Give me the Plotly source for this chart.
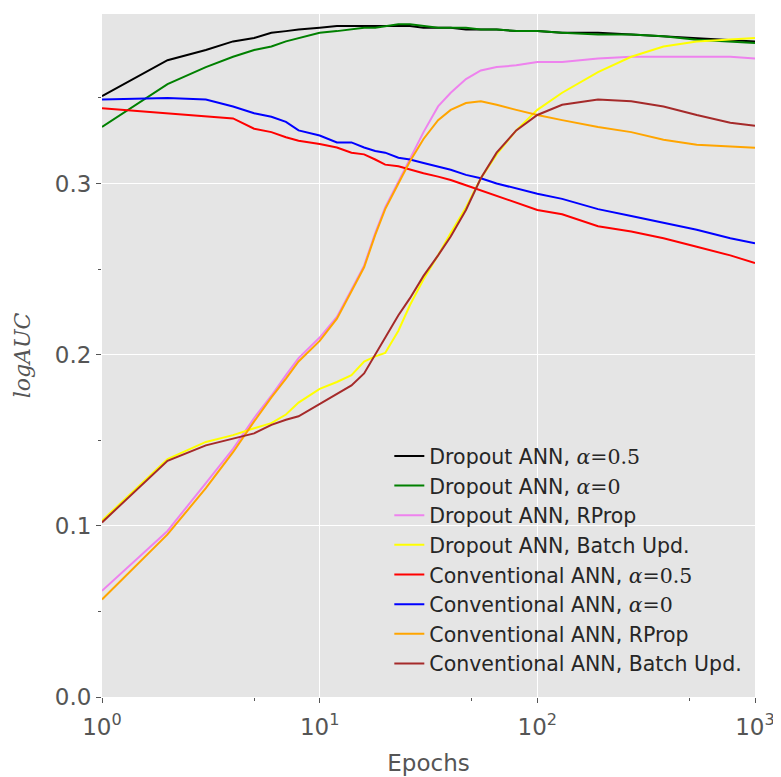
import plotly.graph_objects as go

epochs = [1, 2, 3, 4, 5, 6, 7, 8, 10, 12, 14, 16, 18, 20, 23, 26, 30, 35, 40, 47,
          55, 65, 80, 100, 130, 190, 270, 380, 540, 770, 1000]

dropout_a05 = [.351, .372, .378, .383, .385, .388, .389, .390, .391, .392, .392, .392, .392, .392, .392, .392,
               .391, .391, .391, .390, .390, .390, .389, .389, .388, .388, .387, .386, .385, .384, .383]
dropout_a0 = [.333, .358, .368, .374, .378, .380, .383, .385, .388, .389, .390, .391, .391, .392, .393, .393,
              .392, .391, .391, .391, .390, .390, .389, .389, .388, .387, .387, .386, .384, .383, .382]
dropout_rprop = [.062, .097, .125, .145, .163, .176, .188, .198, .210, .222, .238, .252, .271, .286, .301, .314,
                 .330, .345, .353, .361, .366, .368, .369, .371, .371, .373, .374, .374, .374, .374, .373]
dropout_batch = [.103, .139, .149, .153, .157, .160, .165, .172, .180, .184, .188, .196, .199, .201, .214, .229,
                 .244, .258, .271, .286, .303, .317, .331, .343, .353, .365, .374, .380, .383, .384, .385]
conv_a05 = [.344, .341, .339, .338, .332, .330, .327, .325, .323, .321, .318, .317, .314, .311, .310, .308,
            .306, .304, .302, .299, .296, .293, .289, .2845, .282, .275, .272, .268, .263, .258, .2535]
conv_a0 = [.349, .350, .349, .345, .341, .339, .336, .331, .328, .324, .324, .321, .319, .318, .315, .314,
           .312, .310, .308, .305, .303, .300, .297, .294, .291, .285, .281, .277, .273, .268, .265]
conv_rprop = [.057, .095, .122, .143, .161, .175, .186, .196, .208, .221, .237, .251, .270, .285, .300, .313,
              .326, .337, .343, .347, .348, .346, .343, .340, .337, .333, .330, .3255, .3226, .3214, .3208]
conv_batch = [.102, .138, .147, .151, .154, .159, .162, .164, .171, .177, .182, .189, .200, .210, .223, .233,
              .246, .258, .269, .2845, .303, .318, .331, .340, .346, .349, .348, .345, .340, .3355, .3337]

A = "<span style='font-family:DejaVu Serif'><i>α</i>=%s</span>"
series_names = [
    "Dropout ANN, " + A % "0.5",
    "Dropout ANN, " + A % "0",
    "Dropout ANN, RProp",
    "Dropout ANN, Batch Upd.",
    "Conventional ANN, " + A % "0.5",
    "Conventional ANN, " + A % "0",
    "Conventional ANN, RProp",
    "Conventional ANN, Batch Upd.",
]
series_values = [dropout_a05, dropout_a0, dropout_rprop, dropout_batch,
                 conv_a05, conv_a0, conv_rprop, conv_batch]
colors = ["black", "green", "violet", "yellow", "red", "blue", "orange", "brown"]

x_tickvals = [1, 10, 100, 1000]
x_ticktext = ["10<sup>0</sup>", "10<sup>1</sup>", "10<sup>2</sup>", "10<sup>3</sup>"]
y_tickvals = [0.0, 0.1, 0.2, 0.3]
y_ticktext = ["0.0", "0.1", "0.2", "0.3"]

fig = go.Figure()
for name, vals, c in zip(series_names, series_values, colors):
    fig.add_trace(go.Scatter(x=epochs, y=vals, mode="lines", name=name,
                             line=dict(color=c, width=2)))

# page body has an 8px margin, so the figure is sized/offset to land on the reference's plot box
fig.update_layout(
    width=773, height=769,
    margin=dict(l=94, r=26, t=6, b=80),
    paper_bgcolor="white", plot_bgcolor="#e5e5e5",
    font=dict(family="DejaVu Sans", color="#555555", size=23),
    showlegend=True,
    legend=dict(x=0.44, y=0.382, xanchor="left", yanchor="top",
                bgcolor="rgba(0,0,0,0)", font=dict(size=20.5, color="#262626"),
                tracegroupgap=0, itemwidth=30),
)
fig.update_xaxes(type="log", range=[0, 3], tickvals=x_tickvals, ticktext=x_ticktext,
                 showgrid=True, gridcolor="white", gridwidth=1.2, zeroline=False,
                 ticks="outside", ticklen=5, tickcolor="#555555",
                 tickfont=dict(size=23, color="#555555"), ticklabelstandoff=4,
                 minor=dict(tickvals=[5, 50, 500], ticks="outside", ticklen=3, tickcolor="#555555", showgrid=False),
                 title=dict(text="Epochs", font=dict(size=23, color="#555555"), standoff=16))
fig.update_yaxes(range=[0, 0.399], tickvals=y_tickvals, ticktext=y_ticktext,
                 showgrid=True, gridcolor="white", gridwidth=1.2, zeroline=False,
                 ticks="outside", ticklen=5, tickcolor="#555555",
                 tickfont=dict(size=23, color="#555555"),
                 minor=dict(tickvals=[0.05, 0.15, 0.25, 0.35], ticks="outside", ticklen=3, tickcolor="#555555", showgrid=False),
                 title=dict(text="<i>logAUC</i>", font=dict(family="DejaVu Serif", size=22, color="#555555"), standoff=18))

fig.write_html("out.html")
